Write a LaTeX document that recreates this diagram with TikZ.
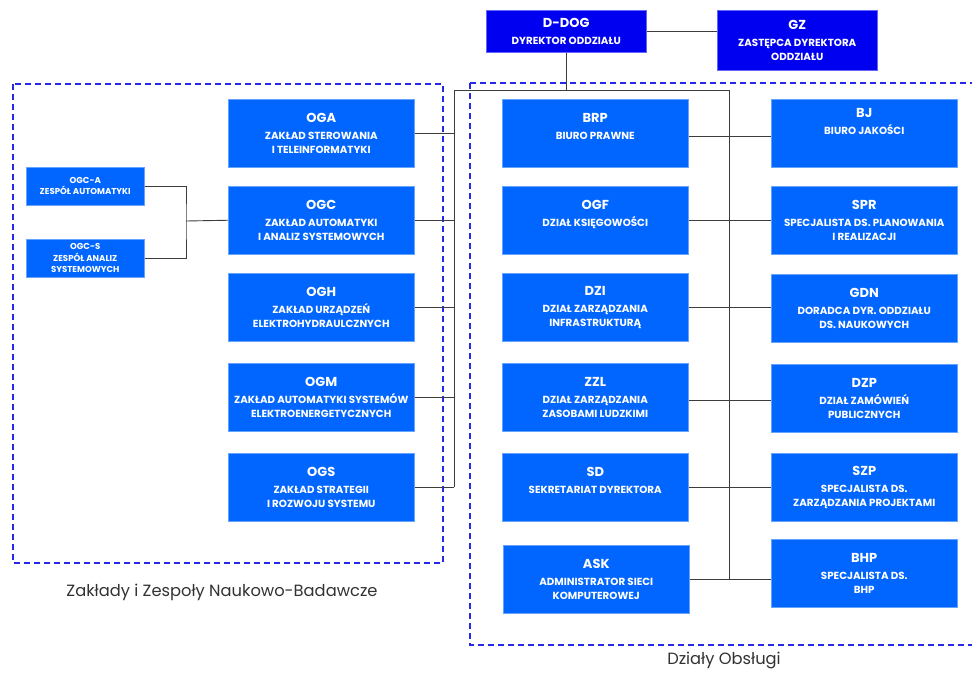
\documentclass[tikz,border=0pt]{standalone}
\usepackage{fontspec}
\setmainfont{Poppins}
\definecolor{boxblue}{RGB}{0,102,255}
\definecolor{topblue}{RGB}{0,0,240}
\definecolor{dashblue}{RGB}{40,40,235}
\definecolor{linegray}{RGB}{60,60,60}
\definecolor{labelgray}{RGB}{50,50,50}
\begin{document}
\begin{tikzpicture}[x=1pt,y=-1pt,
  unitbox/.style={fill=boxblue, draw=boxblue!60!white, line width=0.5pt, text=white, align=center,
    minimum width=186pt, minimum height=68pt, inner sep=0pt, anchor=north west,
    font=\fontsize{10.3}{14}\selectfont\bfseries},
  smallbox/.style={unitbox, minimum width=118pt, minimum height=38pt, font=\fontsize{8.6}{11.3}\selectfont\bfseries},
  topbox/.style={unitbox, fill=topblue, draw=topblue!60!white},
  conn/.style={draw=linegray, line width=0.9pt},
  group/.style={draw=dashblue, line width=1.6pt, dash pattern=on 6pt off 4pt},
  grouplabel/.style={text=labelgray, font=\fontsize{16.3}{18}\selectfont}
]
\useasboundingbox (0,0) rectangle (972,673);
\newcommand{\ttl}[1]{{\fontsize{13}{15}\selectfont #1}\\[3pt]}
\newcommand{\sttl}[1]{#1\\}

% group frames
\draw[group] (13,84) rectangle (443,563);
\draw[group] (470,83) -- (985,83);
\draw[group] (470,83) -- (470,645) -- (985,645);

% top
\node[topbox, minimum width=160pt, minimum height=42pt] (ddog) at (486,10) {\ttl{D-DOG}DYREKTOR ODDZIAŁU};
\node[topbox, minimum width=160pt, minimum height=60pt] (gz) at (717,10) {\ttl{GZ}ZASTĘPCA DYREKTORA\\ODDZIAŁU};

% left column
\node[unitbox] (oga) at (228,99) {\ttl{OGA}ZAKŁAD STEROWANIA\\I TELEINFORMATYKI};
\node[unitbox] (ogc) at (228,186) {\ttl{OGC}ZAKŁAD AUTOMATYKI\\I ANALIZ SYSTEMOWYCH};
\node[unitbox] (ogh) at (228,273) {\ttl{OGH}ZAKŁAD URZĄDZEŃ\\ELEKTROHYDRAULCZNYCH};
\node[unitbox] (ogm) at (228,363) {\ttl{OGM}ZAKŁAD AUTOMATYKI SYSTEMÓW\\ELEKTROENERGETYCZNYCH};
\node[unitbox] (ogs) at (228,453) {\ttl{OGS}ZAKŁAD STRATEGII\\I ROZWOJU SYSTEMU};

\node[smallbox] (ogca) at (26,167) {\sttl{OGC-A}ZESPÓŁ AUTOMATYKI};
\node[smallbox] (ogcs) at (26,239) {\sttl{OGC-S}ZESPÓŁ ANALIZ\\SYSTEMOWYCH};

% middle column
\node[unitbox] (brp) at (502,99) {\ttl{BRP}BIURO PRAWNE\\~};
\node[unitbox] (ogf) at (502,186) {\ttl{OGF}DZIAŁ KSIĘGOWOŚCI\\~};
\node[unitbox] (dzi) at (502,273) {\ttl{DZI}DZIAŁ ZARZĄDZANIA\\INFRASTRUKTURĄ};
\node[unitbox] (zzl) at (502,363) {\ttl{ZZL}DZIAŁ ZARZĄDZANIA\\ZASOBAMI LUDZKIMI};
\node[unitbox] (sd) at (502,453) {\ttl{SD}SEKRETARIAT DYREKTORA\\~};
\node[unitbox] (ask) at (503,545) {\ttl{ASK}ADMINISTRATOR SIECI\\KOMPUTEROWEJ};

% right column
\node[unitbox] (bj) at (771,99) {\ttl{BJ}BIURO JAKOŚCI\\[10pt]};
\node[unitbox] (spr) at (771,186) {\ttl{SPR}SPECJALISTA DS. PLANOWANIA\\I REALIZACJI};
\node[unitbox] (gdn) at (771,274) {\ttl{GDN}DORADCA DYR. ODDZIAŁU\\DS. NAUKOWYCH};
\node[unitbox] (dzp) at (771,364) {\ttl{DZP}DZIAŁ ZAMÓWIEŃ\\PUBLICZNYCH};
\node[unitbox] (szp) at (771,453) {\ttl{SZP}SPECJALISTA DS.\\ZARZĄDZANIA PROJEKTAMI};
\node[unitbox] (bhp) at (771,539) {\ttl{BHP}SPECJALISTA DS.\\BHP};

% labels
\node[grouplabel] (lbl1) at (222,592) {Zakłady i Zespoły Naukowo-Badawcze};
\node[grouplabel] (lbl2) at (724,660) {Działy Obsługi};

% connectors
\coordinate (busL) at (454,90);
\coordinate (busR) at (729,90);
\coordinate (fork) at (186,221);
\draw[conn] (ddog.east) -- (gz.west |- ddog.east);
\draw[conn] (ddog.south) -- (ddog.south |- busL);
\draw[conn] (busL) -- (busR);
\draw[conn] (busL) -- (busL |- ogs.east);
\draw[conn] (busR) -- (busR |- ask.east);
\foreach \n in {oga,ogc,ogh,ogm,ogs}{\draw[conn] (\n.east) -- (busL |- \n.east);}
\draw[conn] (ogca.east) -| (fork) |- (ogcs.east);
\draw[conn] (fork) -- (ogc.west);
\draw[conn] ([yshift=-3pt]brp.east) -- ([yshift=-3pt]bj.west);
\draw[conn] (ogf.east) -- (spr.west |- ogf.east);
\draw[conn] (dzi.east) -- (gdn.west |- dzi.east);
\draw[conn] ([yshift=-3pt]zzl.east) -- ([yshift=-3pt]zzl.east -| dzp.west);
\draw[conn] (sd.east) -- (szp.west |- sd.east);
\draw[conn] (ask.east) -- (bhp.west |- ask.east);
\end{tikzpicture}
\end{document}
